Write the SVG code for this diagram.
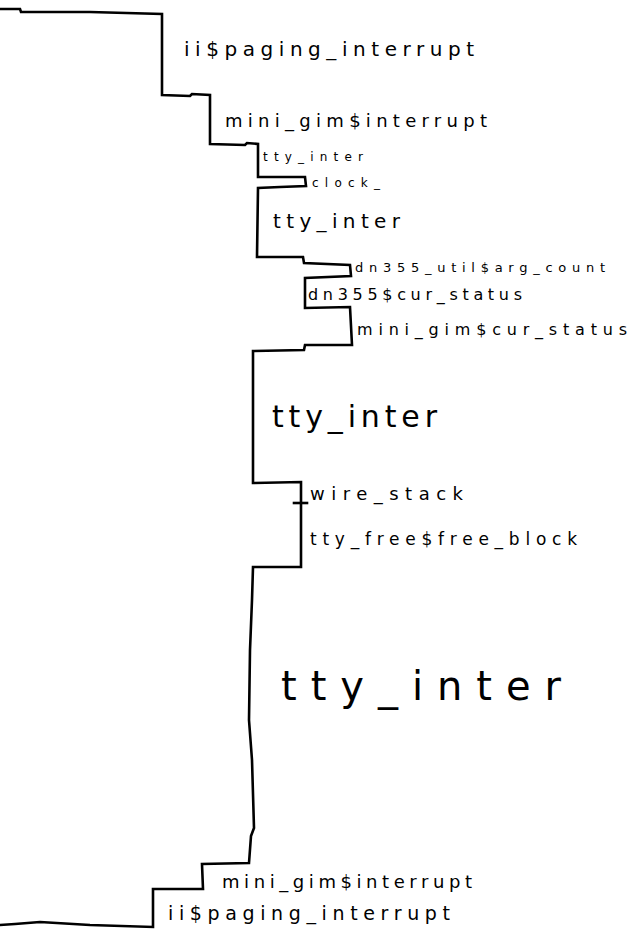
<svg xmlns="http://www.w3.org/2000/svg" width="633" height="940" viewBox="0 0 633 940">
  <style>
    .trace { fill: none; stroke: #000; stroke-width: 2.6; stroke-linejoin: miter; stroke-linecap: square; }
    .lbl { font-family: "DejaVu Sans", "Liberation Sans", sans-serif; fill: #000; font-weight: 400; }
  </style>
  <rect width="633" height="940" fill="#fff"/>

  <!-- call-stack trace line -->
  <g id="connectors">
    <path class="trace" d="M0,9 L20,9 L21,12 L90,12 L162,14 L162,95 L190,96 L192,94 L210,95 L210,144 L245,145 L247,143 L258,144 L258,177 L305,177 L306,186 L280,187 L258,188 L257,257 L303,257 L304,263 L350,265 L351,276 L305,278 L305,308 L350,307 L352,345 L305,345 L304,350 L253,351 L253,483 L301,482 L301,567 L253,567 L252,600 L250,650 L249,720 L252,760 L254,828 L251,836 L249,863 L202,864 L203,889 L153,889 L153,927 L90,925 L40,922 L15,924 L0,925"/>
    <path class="trace" d="M294,503 L307,503"/>
  </g>

  <g id="frame-ii-paging-interrupt-top"><text class="lbl" x="184" y="56" font-size="20" textLength="290" lengthAdjust="spacing">ii$paging_interrupt</text></g>
  <g id="frame-mini-gim-interrupt-top"><text class="lbl" x="225" y="127" font-size="18" textLength="262" lengthAdjust="spacing">mini_gim$interrupt</text></g>
  <g id="frame-tty-inter-1"><text class="lbl" x="263" y="161" font-size="12" textLength="100" lengthAdjust="spacing">tty_inter</text></g>
  <g id="frame-clock"><text class="lbl" x="312" y="187" font-size="12" textLength="68" lengthAdjust="spacing">clock_</text></g>
  <g id="frame-tty-inter-2"><text class="lbl" x="273" y="228" font-size="20" textLength="127" lengthAdjust="spacing">tty_inter</text></g>
  <g id="frame-dn355-util-arg-count"><text class="lbl" x="355" y="272" font-size="13" textLength="250" lengthAdjust="spacing">dn355_util$arg_count</text></g>
  <g id="frame-dn355-cur-status"><text class="lbl" x="308" y="300" font-size="16" textLength="214" lengthAdjust="spacing">dn355$cur_status</text></g>
  <g id="frame-mini-gim-cur-status"><text class="lbl" x="357" y="335" font-size="16" textLength="270" lengthAdjust="spacing">mini_gim$cur_status</text></g>
  <g id="frame-tty-inter-3"><text class="lbl" x="272" y="427" font-size="30" textLength="165" lengthAdjust="spacing">tty_inter</text></g>
  <g id="frame-wire-stack"><text class="lbl" x="310" y="500" font-size="18" textLength="153" lengthAdjust="spacing">wire_stack</text></g>
  <g id="frame-tty-free-free-block"><text class="lbl" x="310" y="545" font-size="17" textLength="267" lengthAdjust="spacing">tty_free$free_block</text></g>
  <g id="frame-tty-inter-4"><text class="lbl" x="281" y="700" font-size="40" textLength="280" lengthAdjust="spacing">tty_inter</text></g>
  <g id="frame-mini-gim-interrupt-bottom"><text class="lbl" x="222" y="888" font-size="18" textLength="250" lengthAdjust="spacing">mini_gim$interrupt</text></g>
  <g id="frame-ii-paging-interrupt-bottom"><text class="lbl" x="168" y="920" font-size="19" textLength="282" lengthAdjust="spacing">ii$paging_interrupt</text></g>
</svg>
